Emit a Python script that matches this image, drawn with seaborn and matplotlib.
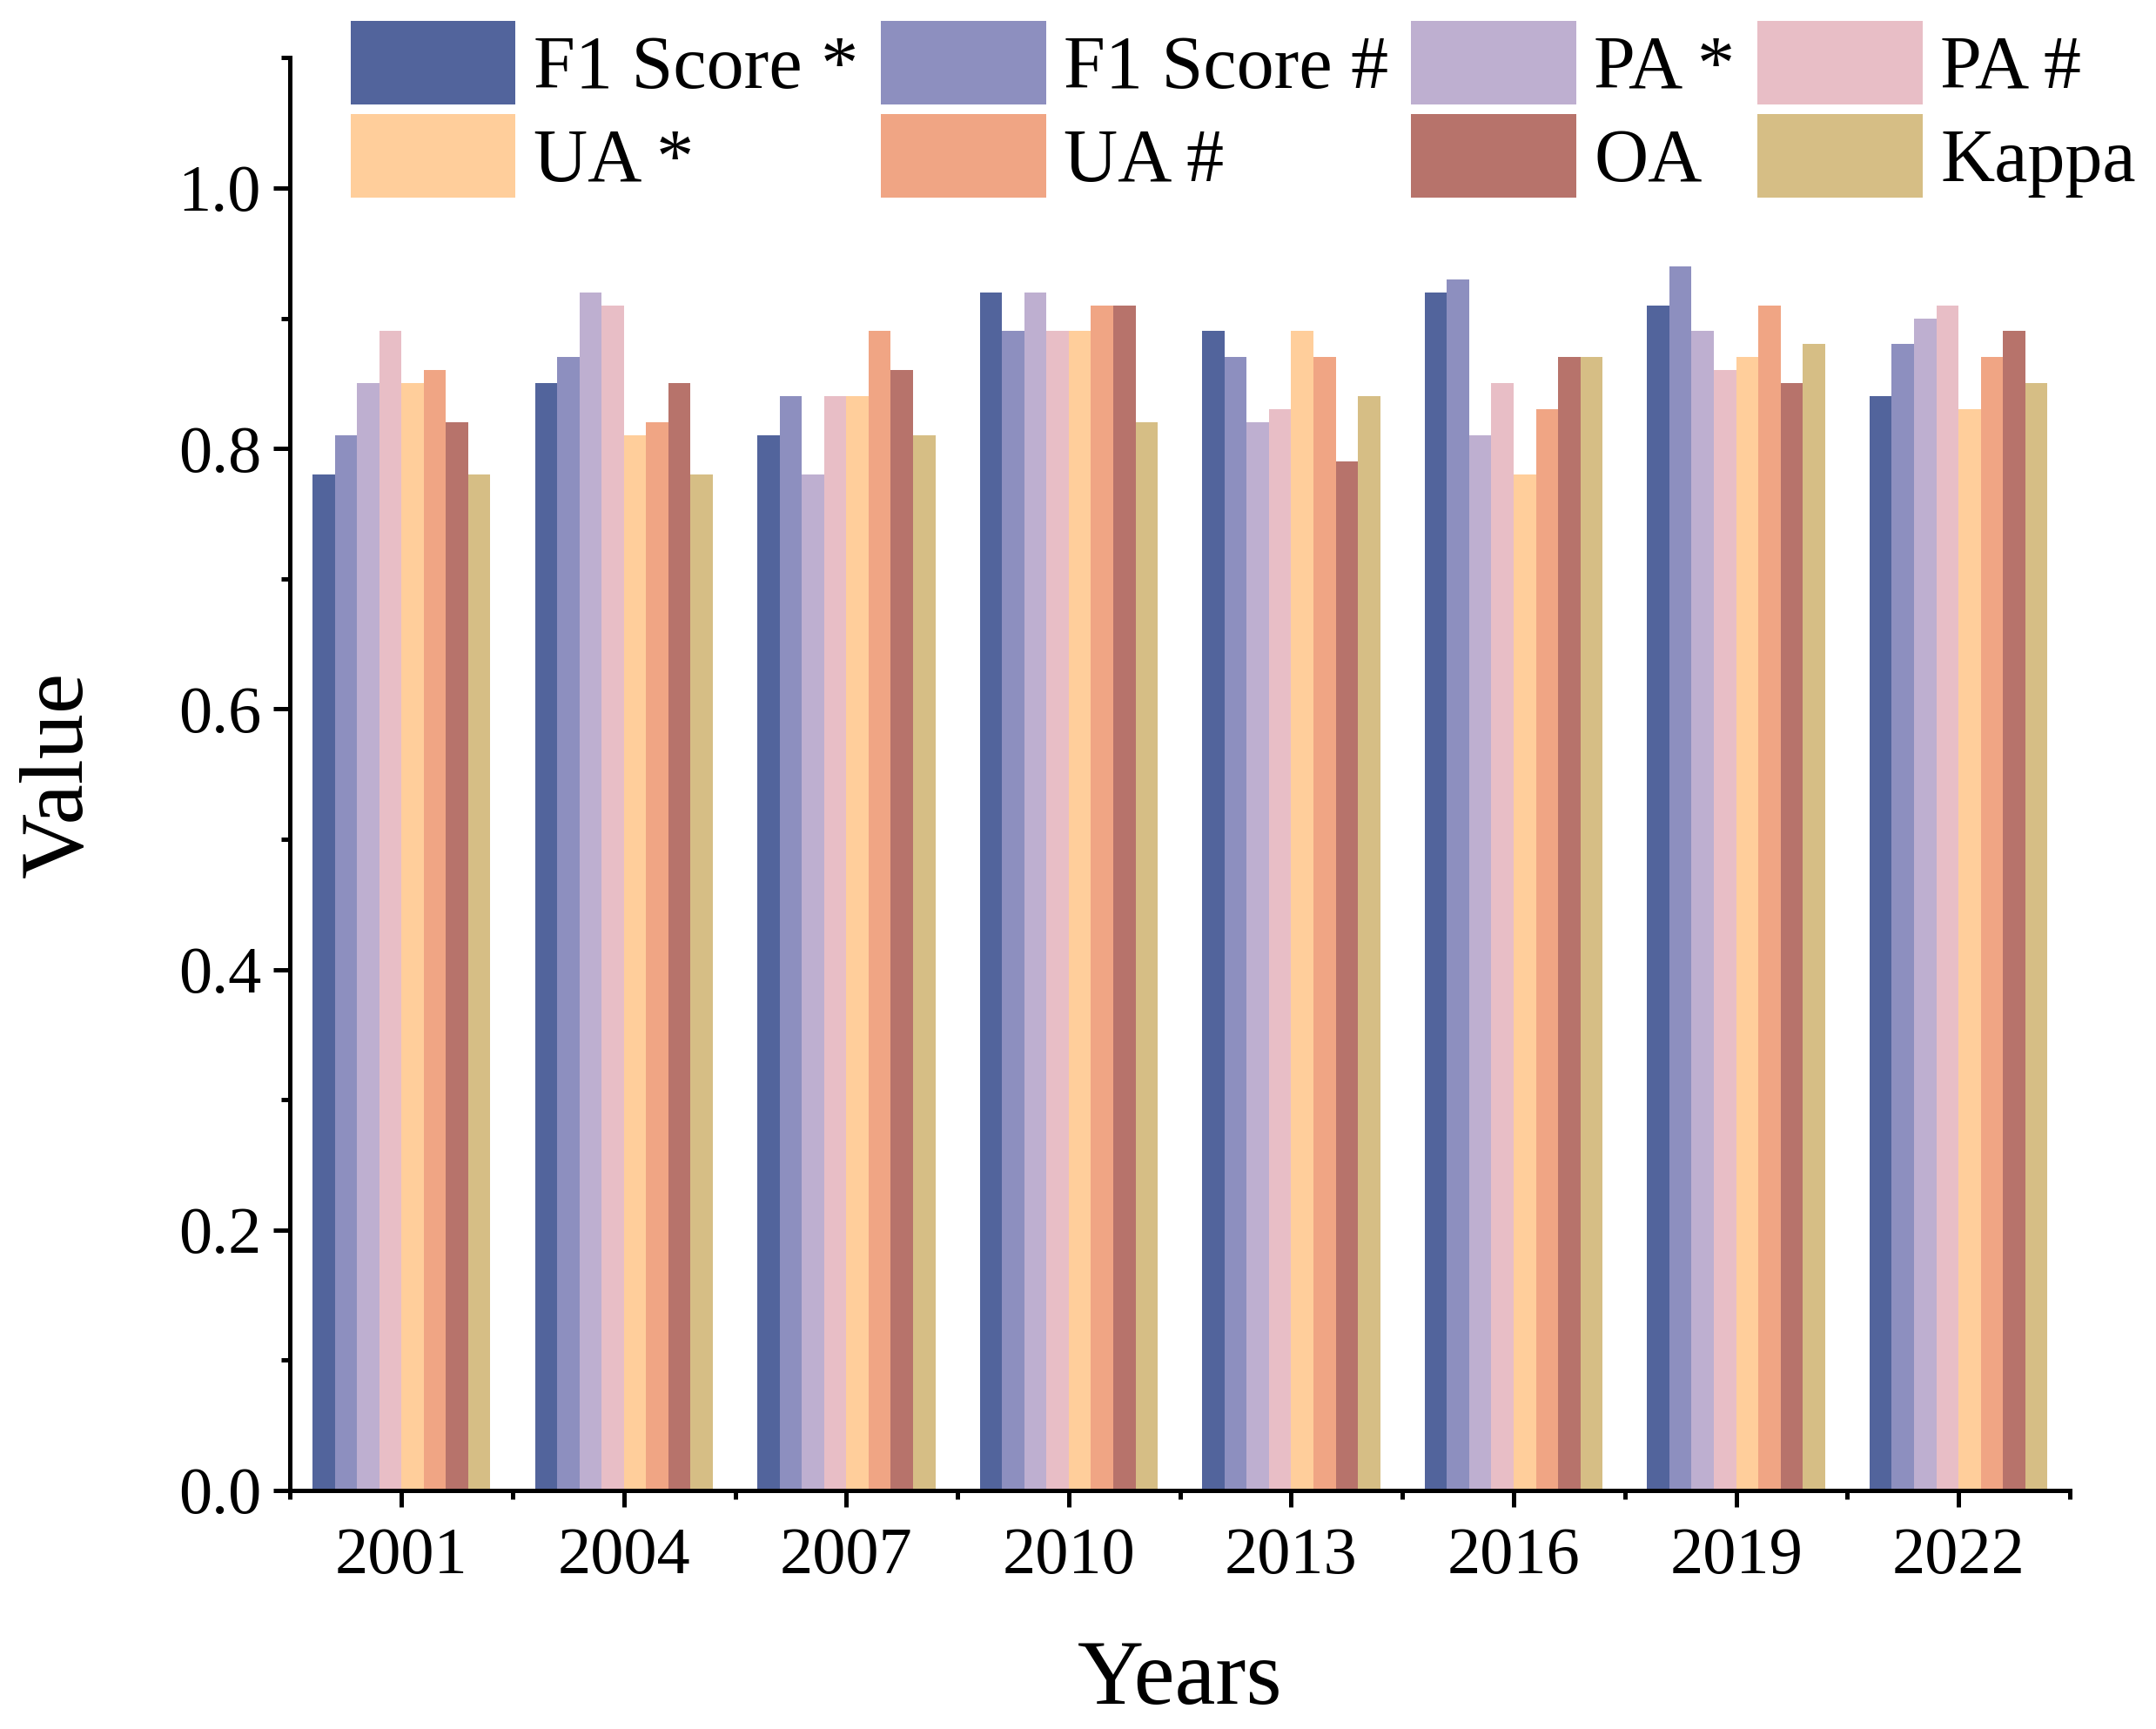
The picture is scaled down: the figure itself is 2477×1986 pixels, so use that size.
import numpy as np
import pandas as pd
import seaborn as sns
import matplotlib.pyplot as plt
from matplotlib.ticker import MultipleLocator, FixedLocator

years = ["2001", "2004", "2007", "2010", "2013", "2016", "2019", "2022"]
metrics = ["F1 Score *", "F1 Score #", "PA *", "PA #", "UA *", "UA #", "OA", "Kappa"]

f1_star = [0.78, 0.85, 0.81, 0.92, 0.89, 0.92, 0.91, 0.84]
f1_hash = [0.81, 0.87, 0.84, 0.89, 0.87, 0.93, 0.94, 0.88]
pa_star = [0.85, 0.92, 0.78, 0.92, 0.82, 0.81, 0.89, 0.90]
pa_hash = [0.89, 0.91, 0.84, 0.89, 0.83, 0.85, 0.86, 0.91]
ua_star = [0.85, 0.81, 0.84, 0.89, 0.89, 0.78, 0.87, 0.83]
ua_hash = [0.86, 0.82, 0.89, 0.91, 0.87, 0.83, 0.91, 0.87]
oa = [0.82, 0.85, 0.86, 0.91, 0.79, 0.87, 0.85, 0.89]
kappa = [0.78, 0.78, 0.81, 0.82, 0.84, 0.87, 0.88, 0.85]

colors = ["#52649c", "#8d8fbf", "#beafd0", "#e8bec6",
          "#ffce9b", "#f0a584", "#b7736b", "#d6be85"]

series = [f1_star, f1_hash, pa_star, pa_hash, ua_star, ua_hash, oa, kappa]
rows = []
for m, vals in zip(metrics, series):
    for y, v in zip(years, vals):
        rows.append({"Years": y, "Metric": m, "Value": v})
df = pd.DataFrame(rows)

sns.set_theme(style="ticks")
plt.rcParams["font.family"] = ["Liberation Serif", "DejaVu Serif"]
plt.rcParams["text.color"] = "black"
plt.rcParams["axes.labelcolor"] = "black"

fig = plt.figure(figsize=(24.77, 19.86), dpi=100)
ax = fig.add_axes([0.1346, 0.138, 0.8254, 0.8286])

sns.barplot(data=df, x="Years", y="Value", hue="Metric", order=years,
            hue_order=metrics, palette=colors, width=0.8, linewidth=0,
            saturation=1, ax=ax)

ax.set_xlim(-0.5, 7.5)
ax.set_ylim(0, 1.1)
ax.set_yticks([0.0, 0.2, 0.4, 0.6, 0.8, 1.0])
ax.set_yticklabels(["0.0", "0.2", "0.4", "0.6", "0.8", "1.0"])
ax.yaxis.set_minor_locator(MultipleLocator(0.1))
ax.xaxis.set_minor_locator(FixedLocator(np.arange(-0.5, 8, 1.0)))

for side in ["top", "right"]:
    ax.spines[side].set_visible(False)
for side in ["left", "bottom"]:
    ax.spines[side].set_linewidth(3.6)
    ax.spines[side].set_color("black")

ax.tick_params(axis="both", which="major", direction="out", length=14,
               width=3.6, labelsize=55, colors="black")
ax.tick_params(axis="both", which="minor", direction="out", length=7,
               width=3.6, colors="black")
ax.tick_params(axis="x", which="major", pad=16)
ax.tick_params(axis="y", which="major", pad=10)

ax.set_xlabel("Years", fontsize=76, labelpad=44, color="black")
ax.set_ylabel("Value", fontsize=75, labelpad=64, color="black")

# legend reads row by row in the reference, matplotlib fills by column
handles, labels = ax.get_legend_handles_labels()
order = [0, 4, 1, 5, 2, 6, 3, 7]
ax.legend([handles[i] for i in order], [labels[i] for i in order], ncol=4,
          loc="upper left", bbox_to_anchor=(0.1627, 0.988),
          bbox_transform=fig.transFigure, frameon=False, fontsize=62,
          handlelength=2.2, handleheight=1.35, handletextpad=0.24,
          columnspacing=0.3, labelspacing=0.12, borderpad=0, borderaxespad=0)

fig.savefig("out.png", dpi=100, facecolor="white")
